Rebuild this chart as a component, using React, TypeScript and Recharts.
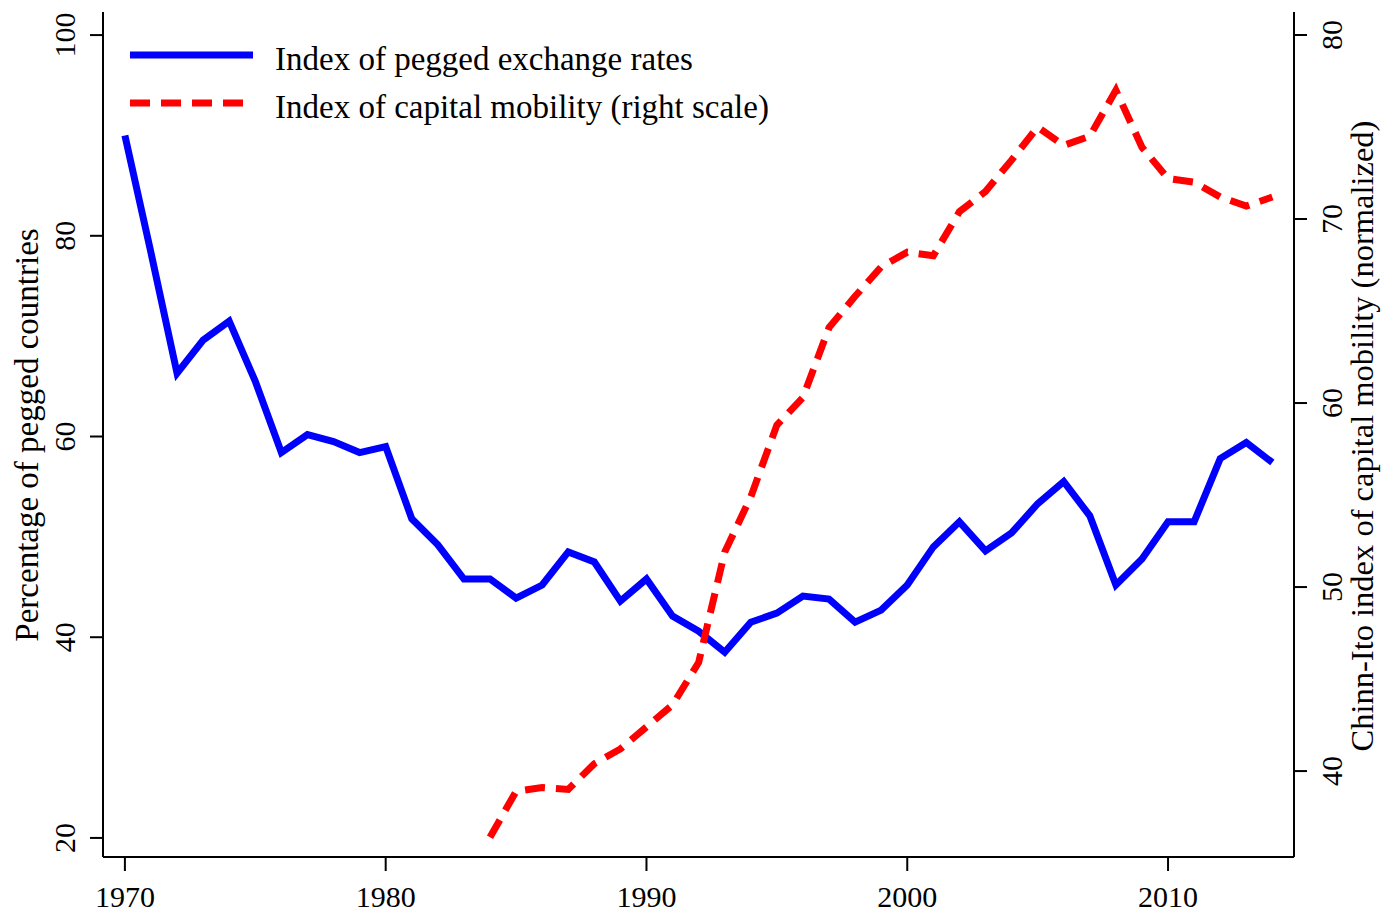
import { LineChart, Line, XAxis, YAxis, Legend } from 'recharts'

const FONT = '"Liberation Serif", "DejaVu Serif", serif'

// years on the x axis
const years = [
  1970, 1971, 1972, 1973, 1974, 1975, 1976, 1977, 1978, 1979,
  1980, 1981, 1982, 1983, 1984, 1985, 1986, 1987, 1988, 1989,
  1990, 1991, 1992, 1993, 1994, 1995, 1996, 1997, 1998, 1999,
  2000, 2001, 2002, 2003, 2004, 2005, 2006, 2007, 2008, 2009,
  2010, 2011, 2012, 2013, 2014,
]

// percentage of pegged countries (left scale)
const peggedPct = [
  90.0, 78.3, 66.3, 69.6, 71.5, 65.5, 58.4, 60.2, 59.5, 58.4,
  59.0, 51.8, 49.2, 45.8, 45.8, 43.9, 45.2, 48.5, 47.5, 43.6,
  45.8, 42.1, 40.6, 38.5, 41.5, 42.4, 44.1, 43.8, 41.5, 42.7,
  45.2, 49.0, 51.5, 48.6, 50.4, 53.3, 55.5, 52.1, 45.2, 47.8,
  51.5, 51.5, 57.8, 59.4, 57.4,
]

// Chinn-Ito index (right scale), starts in 1984
const capitalMobility = [
  null, null, null, null, null, null, null, null, null, null,
  null, null, null, null, 36.4, 38.9, 39.1, 39.0, 40.4, 41.2,
  42.4, 43.6, 45.9, 51.9, 54.9, 58.8, 60.3, 64.1, 65.8, 67.4,
  68.2, 68.0, 70.4, 71.5, 73.2, 75.0, 74.0, 74.5, 77.0, 73.9,
  72.2, 72.0, 71.2, 70.7, 71.2,
]

const xTicks = [1970, 1980, 1990, 2000, 2010]
const leftTicks = [20, 40, 60, 80, 100]
const rightTicks = [40, 50, 60, 70, 80]

const seriesNames = [
  'Index of pegged exchange rates',
  'Index of capital mobility (right scale)',
]

const data = years.map((year, i) => ({
  year,
  pegged: peggedPct[i],
  mobility: capitalMobility[i],
}))

const axisStyle = { stroke: '#000', strokeWidth: 2 }

function XTick({ x, payload }: any) {
  return (
    <text
      x={x}
      y={907}
      textAnchor="middle"
      fontFamily={FONT}
      fontSize={30}
      fill="#000"
    >
      {payload.value}
    </text>
  )
}

// y tick labels are turned to read bottom-up, as in R
function makeYTick(cx: number) {
  return function YTick({ y, payload }: any) {
    return (
      <text
        transform={`translate(${cx},${y}) rotate(-90)`}
        textAnchor="middle"
        dy="0.34em"
        fontFamily={FONT}
        fontSize={30}
        fill="#000"
      >
        {payload.value}
      </text>
    )
  }
}

const LeftTick = makeYTick(65)
const RightTick = makeYTick(1332)

function LeftTitle() {
  return (
    <text
      transform="translate(38,435) rotate(-90)"
      textAnchor="middle"
      fontFamily={FONT}
      fontSize={33}
      fill="#000"
    >
      Percentage of pegged countries
    </text>
  )
}

function RightTitle() {
  return (
    <text
      transform="translate(1373,436) rotate(-90)"
      textAnchor="middle"
      fontFamily={FONT}
      fontSize={32.5}
      fill="#000"
    >
      Chinn-Ito index of capital mobility (normalized)
    </text>
  )
}

function LegendBox() {
  return (
    <svg width={800} height={140} style={{ display: 'block' }}>
      <line x1={130} y1={55} x2={253} y2={55} stroke="#0000FF" strokeWidth={7} />
      <line
        x1={130}
        y1={103}
        x2={250}
        y2={103}
        stroke="#FF0000"
        strokeWidth={7}
        strokeDasharray="20 11"
      />
      <text x={275} y={70} fontFamily={FONT} fontSize={33} fill="#000">
        {seriesNames[0]}
      </text>
      <text x={275} y={118} fontFamily={FONT} fontSize={33} fill="#000">
        {seriesNames[1]}
      </text>
    </svg>
  )
}

export default function App() {
  return (
    <div style={{ position: 'absolute', left: 0, top: 0, background: '#fff' }}>
      <LineChart
        width={1386}
        height={914}
        data={data}
        margin={{ top: 12, right: 0, bottom: 0, left: 0 }}
      >
        <XAxis
          dataKey="year"
          type="number"
          domain={[1969.16, 2014.83]}
          allowDataOverflow
          ticks={xTicks}
          interval={0}
          height={57}
          tickSize={14}
          axisLine={axisStyle}
          tickLine={axisStyle}
          tick={<XTick />}
        />
        <XAxis
          xAxisId="top"
          orientation="top"
          dataKey="year"
          type="number"
          domain={[1969.16, 2014.83]}
          allowDataOverflow
          height={0}
          tick={false}
          tickLine={false}
          axisLine={axisStyle}
        />
        <YAxis
          yAxisId="left"
          type="number"
          domain={[18.1, 102.3]}
          allowDataOverflow
          ticks={leftTicks}
          interval={0}
          width={103}
          tickSize={13}
          axisLine={axisStyle}
          tickLine={axisStyle}
          tick={<LeftTick />}
          label={<LeftTitle />}
        />
        <YAxis
          yAxisId="right"
          orientation="right"
          type="number"
          domain={[35.33, 81.25]}
          allowDataOverflow
          ticks={rightTicks}
          interval={0}
          width={92}
          tickSize={13}
          axisLine={axisStyle}
          tickLine={axisStyle}
          tick={<RightTick />}
          label={<RightTitle />}
        />
        <Line
          yAxisId="left"
          dataKey="pegged"
          name={seriesNames[0]}
          type="linear"
          stroke="#0000FF"
          strokeWidth={7}
          dot={false}
          isAnimationActive={false}
        />
        <Line
          yAxisId="right"
          dataKey="mobility"
          name={seriesNames[1]}
          type="linear"
          stroke="#FF0000"
          strokeWidth={7}
          strokeDasharray="20 11"
          dot={false}
          isAnimationActive={false}
        />
        <Legend
          layout="horizontal"
          verticalAlign="middle"
          align="center"
          content={<LegendBox />}
          wrapperStyle={{ position: 'absolute', left: 0, top: 0, width: 800, height: 140 }}
        />
      </LineChart>
    </div>
  )
}
